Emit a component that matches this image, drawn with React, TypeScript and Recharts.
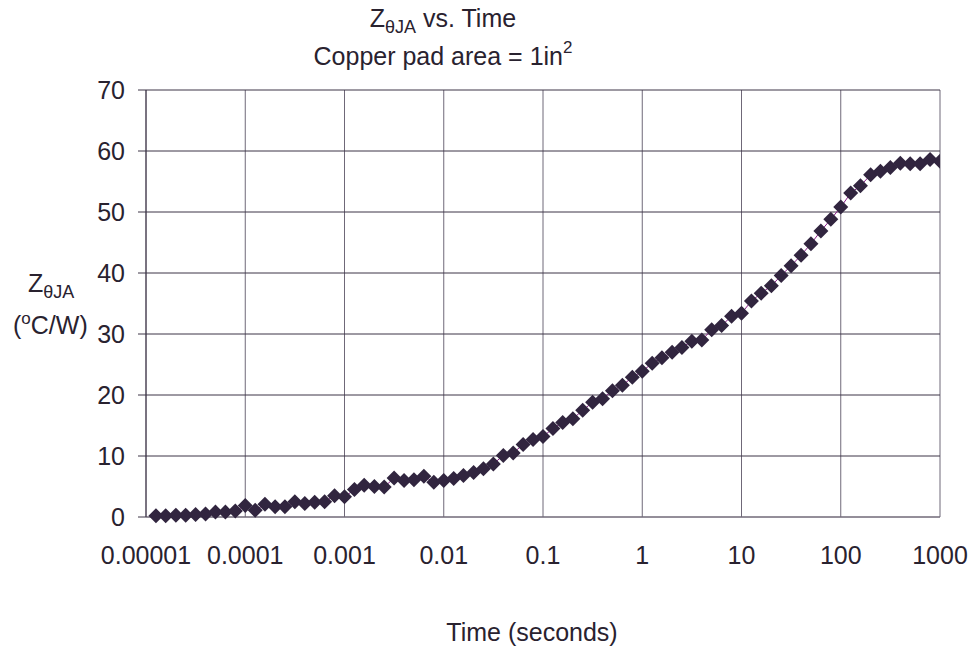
import { LineChart, Line, XAxis, YAxis, CartesianGrid } from 'recharts';

// sample times (s), 10 points per decade
const timeS = [
  1.26e-5, 1.58e-5, 2.0e-5, 2.51e-5, 3.16e-5, 3.98e-5, 5.01e-5, 6.31e-5, 7.94e-5, 1.0e-4,
  1.26e-4, 1.58e-4, 2.0e-4, 2.51e-4, 3.16e-4, 3.98e-4, 5.01e-4, 6.31e-4, 7.94e-4, 1.0e-3,
  1.26e-3, 1.58e-3, 2.0e-3, 2.51e-3, 3.16e-3, 3.98e-3, 5.01e-3, 6.31e-3, 7.94e-3, 1.0e-2,
  1.26e-2, 1.58e-2, 2.0e-2, 2.51e-2, 3.16e-2, 3.98e-2, 5.01e-2, 6.31e-2, 7.94e-2, 0.1,
  0.126, 0.158, 0.2, 0.251, 0.316, 0.398, 0.501, 0.631, 0.794, 1,
  1.26, 1.58, 2.0, 2.51, 3.16, 3.98, 5.01, 6.31, 7.94, 10,
  12.6, 15.8, 20, 25.1, 31.6, 39.8, 50.1, 63.1, 79.4, 100,
  126, 158, 200, 251, 316, 398, 501, 631, 794, 1000,
];

// Z thetaJA (C/W)
const zthJA = [
  0.2, 0.2, 0.3, 0.3, 0.4, 0.5, 0.8, 0.8, 1.0, 1.9,
  1.1, 2.1, 1.7, 1.7, 2.5, 2.2, 2.4, 2.5, 3.5, 3.3,
  4.5, 5.2, 5.0, 4.9, 6.4, 6.0, 6.1, 6.7, 5.7, 6.0,
  6.3, 6.8, 7.3, 7.9, 8.7, 10.1, 10.5, 11.9, 12.7, 13.2,
  14.5, 15.5, 16.1, 17.5, 18.8, 19.4, 20.7, 21.6, 22.9, 23.9,
  25.2, 26.1, 27.0, 27.8, 28.8, 29.0, 30.7, 31.4, 32.9, 33.4,
  35.4, 36.7, 37.9, 39.6, 41.2, 42.9, 44.8, 46.9, 48.8, 50.8,
  53.1, 54.3, 56.1, 56.7, 57.3, 58.0, 57.9, 57.9, 58.6, 58.3,
];

const xTicks = [1e-5, 1e-4, 1e-3, 1e-2, 1e-1, 1, 10, 100, 1000];
const xTickLabels = ['0.00001', '0.0001', '0.001', '0.01', '0.1', '1', '10', '100', '1000'];
const yTicks = [0, 10, 20, 30, 40, 50, 60, 70];

const data = timeS.map((t, i) => ({ t, z: zthJA[i] }));

const FONT = '"Liberation Sans", Arial, sans-serif';
const TEXT = '#29222f';
const MARKER = '#31253f';

function Diamond(props: any) {
  const { cx, cy, index } = props;
  if (cx == null || cy == null) return <g key={`d${index}`} />;
  const r = 7.5;
  return (
    <path
      key={`d${index}`}
      d={`M${cx},${cy - r}L${cx + r},${cy}L${cx},${cy + r}L${cx - r},${cy}Z`}
      fill={MARKER}
    />
  );
}

export default function App() {
  return (
    <div style={{ position: 'absolute', left: 0, top: 0, width: 970, height: 650, background: '#fff', fontFamily: FONT }}>
      <LineChart
        width={970}
        height={650}
        data={data}
        margin={{ top: 90, right: 30, bottom: 93, left: 86 }}
      >
        <CartesianGrid horizontal={false} stroke="#6f6878" strokeWidth={1} />
        <CartesianGrid vertical={false} stroke="#3d3547" strokeWidth={1} />
        <XAxis
          dataKey="t"
          type="number"
          scale="log"
          domain={[1e-5, 1000]}
          ticks={xTicks}
          allowDataOverflow
          height={40}
          tickSize={0}
          tickMargin={29}
          tickFormatter={(v: number) => xTickLabels[xTicks.indexOf(v)] ?? String(v)}
          tick={{ fill: TEXT, fontSize: 25, fontFamily: FONT }}
          axisLine={{ stroke: '#8a8490' }}
          tickLine={false}
        />
        <YAxis
          type="number"
          domain={[0, 70]}
          ticks={yTicks}
          width={60}
          tickSize={8}
          tickMargin={13}
          tick={{ fill: TEXT, fontSize: 25, fontFamily: FONT }}
          axisLine={{ stroke: '#3d3547' }}
          tickLine={{ stroke: '#3d3547' }}
        />
        <Line
          dataKey="z"
          type="linear"
          stroke="#8a1a8a"
          strokeWidth={1}
          dot={Diamond}
          activeDot={false}
          isAnimationActive={false}
        />
      </LineChart>
      <svg
        width={970}
        height={650}
        style={{ position: 'absolute', left: 0, top: 0, pointerEvents: 'none' }}
        fontFamily={FONT}
        fill={TEXT}
      >
        <text x={443} y={27} fontSize={25} textAnchor="middle">
          Z<tspan dy={6} fontSize={18}>θJA</tspan>
          <tspan dy={-6}> vs. Time</tspan>
        </text>
        <text x={443} y={65} fontSize={25} textAnchor="middle">
          Copper pad area = 1in<tspan dy={-12} fontSize={17}>2</tspan>
        </text>
        <text x={28} y={292} fontSize={25}>
          Z<tspan dy={6} fontSize={18}>θJA</tspan>
        </text>
        <text x={13} y={334} fontSize={25}>
          (<tspan dy={-10} fontSize={17}>o</tspan>
          <tspan dy={10}>C/W)</tspan>
        </text>
        <text x={532} y={641} fontSize={25} textAnchor="middle">
          Time (seconds)
        </text>
      </svg>
    </div>
  );
}
